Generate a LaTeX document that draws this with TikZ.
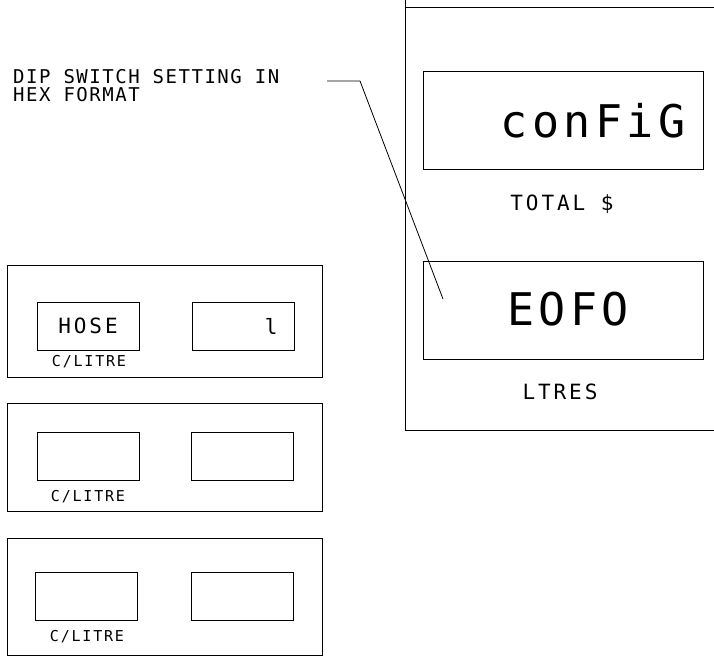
\documentclass[tikz,border=0pt]{standalone}
\usepackage{fontspec}
\setmonofont{DejaVu Sans Mono}
\usepackage{tikz}

\tikzset{
  panel/.style={draw,line width=0.8pt,minimum width=315pt,inner sep=0pt},
  window/.style={draw,line width=0.8pt,minimum width=102pt,minimum height=48pt,inner sep=0pt},
  display/.style={draw,line width=0.8pt,minimum width=280pt,minimum height=98pt,inner sep=0pt},
  small/.style={font=\ttfamily\fontsize{15}{15}\selectfont\addfontfeature{LetterSpace=12}},
  medium/.style={font=\ttfamily\fontsize{21}{21}\selectfont\addfontfeature{LetterSpace=14}},
  note/.style={anchor=base west,inner sep=0pt,font=\ttfamily\fontsize{19}{19}\selectfont\addfontfeature{LetterSpace=8}},
  big/.style={font=\ttfamily\fontsize{45}{45}\selectfont\addfontfeature{LetterSpace=10}}
}

\begin{document}
\begin{tikzpicture}[x=1pt,y=-1pt]
                    \useasboundingbox (0,0) rectangle (714,656);

                    % hose panels on the left
                    \path
                    (164.5,321) node[panel,minimum height=112pt](p1) {}
                    (164.5,457) node[panel,minimum height=108pt](p2) {}
                    (164.5,596.5) node[panel,minimum height=117pt](p3) {}
                    (88,326) node[window,medium](w1a) {HOSE}
                    (243,326) node[window](w1b) {}
                    (88,456) node[window](w2a) {}
                    (242.5,456) node[window](w2b) {}
                    (86.5,596) node[window](w3a) {}
                    (242,596) node[window](w3b) {};

                    \node[medium,anchor=east] (hosenr) at (281,326) {l};
                    \node[small] (cl1) at (89,362) {C/LITRE};
                    \node[small] (cl2) at (88,497) {C/LITRE};
                    \node[small] (cl3) at (87,637) {C/LITRE};

                    % main display on the right
                    \draw[line width=0.8pt] (405,0) -- (405,430) -- (714,430);
                    \draw[line width=0.8pt] (405,7) -- (714,7);
                    \path
                    (563,120.5) node[display](d1) {}
                    (563,310.5) node[display](d2) {};
                    \node[big] (cfg) at (593,121) {conFiG};
                    \node[big] (hex) at (568,309) {EOFO};
                    \node[medium] (total) at (562,204) {TOTAL \$};
                    \node[medium] (ltr) at (560,392) {LTRES};

                    % leader
                    \node[note] (dip1) at (13,83) {DIP SWITCH SETTING IN};
                    \node[note] (dip2) at (13,101) {HEX FORMAT};
                    \coordinate (leadstart) at (327,81);
                    \coordinate (leadend) at (443,299);
                    \draw[line width=0.8pt] (leadstart) -- ++(33,0) -- (leadend);
                \end{tikzpicture}
\end{document}
